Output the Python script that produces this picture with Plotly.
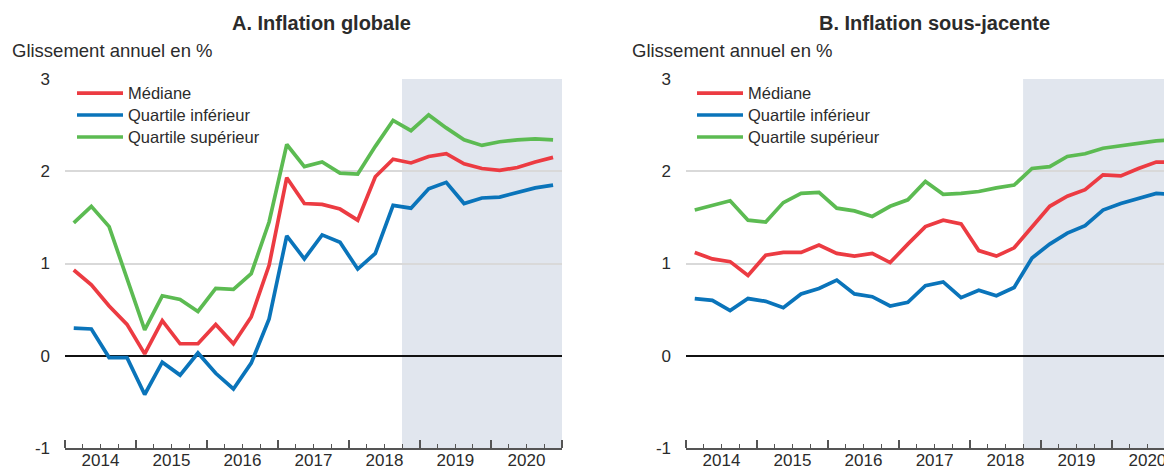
import pandas as pd
import plotly.graph_objects as go
from plotly.subplots import make_subplots

# trimestres 2014T1 .. 2020T4
quarters = pd.period_range("2014Q1", "2020Q4", freq="Q")
x_dates = [q.start_time + (q.end_time - q.start_time) / 2 for q in quarters]

# A. Inflation globale
a_mediane = [0.93, 0.77, 0.54, 0.34, 0.02, 0.38, 0.13, 0.13,
             0.34, 0.13, 0.42, 0.98, 1.93, 1.65, 1.64, 1.59,
             1.47, 1.94, 2.13, 2.09, 2.16, 2.19, 2.08, 2.03,
             2.01, 2.04, 2.10, 2.15]
a_inf = [0.30, 0.29, -0.02, -0.02, -0.42, -0.07, -0.21, 0.03,
         -0.19, -0.36, -0.08, 0.40, 1.30, 1.05, 1.31, 1.23,
         0.94, 1.11, 1.63, 1.60, 1.81, 1.88, 1.65, 1.71,
         1.72, 1.77, 1.82, 1.85]
a_sup = [1.44, 1.62, 1.40, 0.85, 0.28, 0.65, 0.61, 0.48,
         0.73, 0.72, 0.89, 1.45, 2.29, 2.05, 2.10, 1.98,
         1.97, 2.27, 2.55, 2.44, 2.61, 2.47, 2.34, 2.28,
         2.32, 2.34, 2.35, 2.34]

# B. Inflation sous-jacente
b_mediane = [1.12, 1.05, 1.02, 0.87, 1.09, 1.12, 1.12, 1.20,
             1.11, 1.08, 1.11, 1.01, 1.21, 1.40, 1.47, 1.43,
             1.14, 1.08, 1.17, 1.40, 1.62, 1.73, 1.80, 1.96,
             1.95, 2.03, 2.10, 2.10]
b_inf = [0.62, 0.60, 0.49, 0.62, 0.59, 0.52, 0.67, 0.73,
         0.82, 0.67, 0.64, 0.54, 0.58, 0.76, 0.80, 0.63,
         0.71, 0.65, 0.74, 1.06, 1.21, 1.33, 1.41, 1.58,
         1.65, 1.70, 1.76, 1.75]
b_sup = [1.58, 1.63, 1.68, 1.47, 1.45, 1.66, 1.76, 1.77,
         1.60, 1.57, 1.51, 1.62, 1.69, 1.89, 1.75, 1.76,
         1.78, 1.82, 1.85, 2.03, 2.05, 2.16, 2.19, 2.25,
         2.28, 2.31, 2.33, 2.34]

series_names = ["Médiane", "Quartile inférieur", "Quartile supérieur"]
colors = ["#ec3b42", "#0a74ba", "#5cbb52"]

y_ticks = [-1, 0, 1, 2, 3]
y_ticktext = ["-1", "0", "1", "2", "3"]

forecast_start = "2018-10-01"
x_start = "2014-01-01"
x_end = "2021-01-01"
x_end_b = "2020-11-05"   # panneau B coupé à droite

# la page ajoute une marge de 8 px : figure réduite d'autant
W, H = 1164, 462
T, B = 71, 15
font = "Liberation Sans, Arial, sans-serif"
txt = "#2b2b2b"

fig = make_subplots(rows=1, cols=2)

panels = [(1, [a_mediane, a_inf, a_sup], "legend"),
          (2, [b_mediane, b_inf, b_sup], "legend2")]
for col, data, leg in panels:
    for name, y, c in zip(series_names, data, colors):
        fig.add_trace(go.Scatter(x=x_dates, y=y, mode="lines",
                                 name='<span style="font-size:16.5px">' + name + "</span>",
                                 line=dict(color=c, width=3.7),
                                 legend=leg, showlegend=True),
                      row=1, col=col)
    fig.add_vrect(x0=forecast_start, x1=x_end, fillcolor="#e1e6ee", opacity=1,
                  line_width=0, layer="below", row=1, col=col)

fig.update_xaxes(type="date", tickformat="%Y", dtick="M12", tick0=x_start,
                 ticklabelmode="period", ticks="inside", ticklen=8, tickwidth=1.5,
                 tickcolor="#555", showline=True, linecolor="#555", linewidth=2,
                 showgrid=False, zeroline=False, ticklabelstandoff=-4,
                 tickfont=dict(size=17, color=txt, family=font),
                 minor=dict(dtick="M3", ticks="inside", ticklen=4, tickwidth=1.2,
                            tickcolor="#555", showgrid=False))
fig.update_xaxes(range=[x_start, x_end], domain=[57 / W, 554 / W], row=1, col=1)
fig.update_xaxes(range=[x_start, x_end_b], domain=[678 / W, 1.0], row=1, col=2)

fig.update_yaxes(range=[-1, 3], tickvals=y_ticks, ticktext=y_ticktext,
                 showgrid=True, gridcolor="#d9d9d9", gridwidth=1.5,
                 zeroline=True, zerolinecolor="#111", zerolinewidth=1.5,
                 showline=False, ticks="", ticklabelstandoff=14,
                 tickfont=dict(size=17, color=txt, family=font))

plot_h = H - T - B
legend_style = dict(font=dict(size=14.6, color=txt, family=font),
                    bgcolor="rgba(0,0,0,0)", xanchor="left", yanchor="top",
                    itemwidth=46, tracegroupgap=0)

fig.update_layout(
    width=W, height=H,
    margin=dict(l=0, r=0, t=T, b=B),
    paper_bgcolor="white", plot_bgcolor="white",
    font=dict(family=font, color=txt),
    legend=dict(x=64 / W, y=1 + 2 / plot_h, **legend_style),
    legend2=dict(x=684 / W, y=1 + 2 / plot_h, **legend_style),
)

# titres et unités (positions en pixels)
for xc, title, xu in [(313.5, "A. Inflation globale", 2),
                      (926.5, "B. Inflation sous-jacente", 622)]:
    fig.add_annotation(x=xc / W, y=1 + (T - 14) / plot_h, xref="paper", yref="paper",
                       xanchor="center", yanchor="middle", text="<b>" + title + "</b>",
                       showarrow=False, font=dict(size=20, color=txt, family=font))
    fig.add_annotation(x=xu / W, y=1 + (T - 42) / plot_h, xref="paper", yref="paper",
                       xanchor="left", yanchor="middle", text="Glissement annuel en %",
                       showarrow=False, font=dict(size=18.5, color=txt, family=font))

fig.write_html("out.html")
